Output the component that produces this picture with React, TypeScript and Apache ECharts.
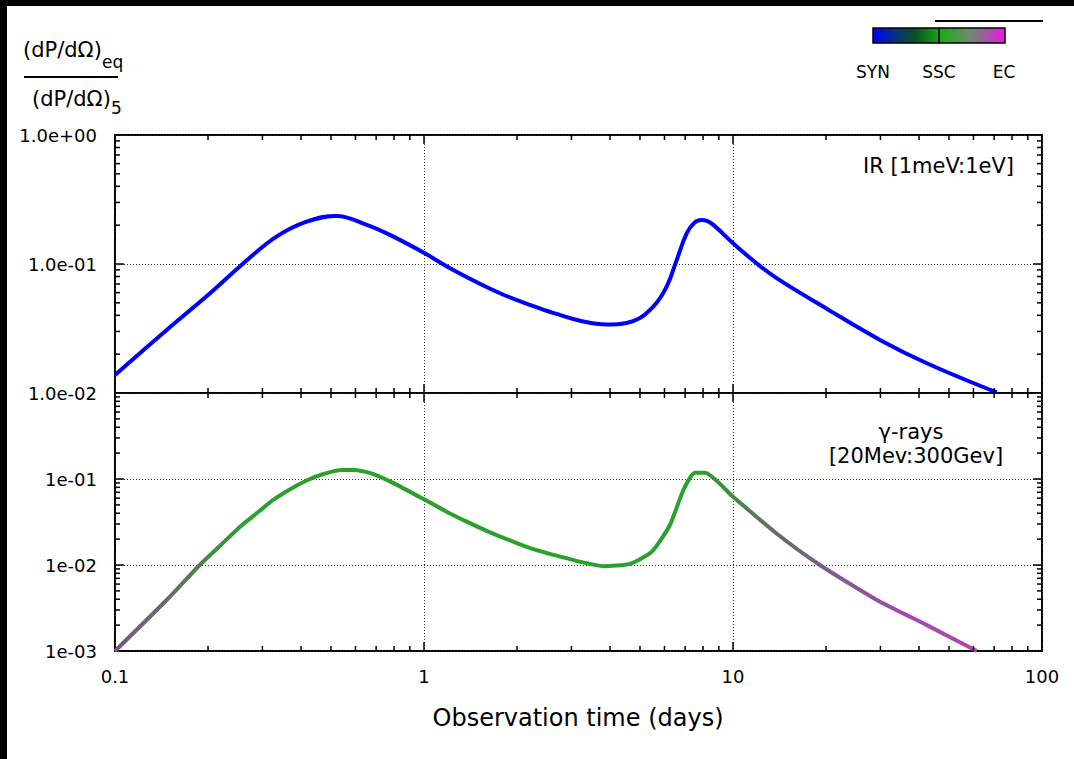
import React, { useEffect, useRef } from "react";
import * as echarts from "echarts";

// ---------- data ----------
const xTickValues = [0.1, 1, 10, 100];
const xTickLabels = ["0.1", "1", "10", "100"];
const topYTickValues = [0.01, 0.1, 1];
const topYTickLabels = ["1.0e-02", "1.0e-01", "1.0e+00"];
const bottomYTickValues = [0.001, 0.01, 0.1, 1];
const bottomYTickLabels = ["1e-03", "1e-02", "1e-01", ""];

const xMinorTicks = [0.2, 0.3, 0.4, 0.5, 0.6, 0.7, 0.8, 0.9, 2, 3, 4, 5, 6, 7, 8, 9, 20, 30, 40, 50, 60, 70, 80, 90];
const xMajorTicks = [1, 10];
const topYMinorTicks = [0.02, 0.03, 0.04, 0.05, 0.06, 0.07, 0.08, 0.09, 0.2, 0.3, 0.4, 0.5, 0.6, 0.7, 0.8, 0.9];
const topYMajorTicks = [0.1];
const bottomYMinorTicks = [0.002, 0.003, 0.004, 0.005, 0.006, 0.007, 0.008, 0.009, 0.02, 0.03, 0.04, 0.05, 0.06, 0.07, 0.08, 0.09, 0.2, 0.3, 0.4, 0.5, 0.6, 0.7, 0.8, 0.9];
const bottomYMajorTicks = [0.01, 0.1];

// IR [1meV:1eV]
const irTime = [0.1, 0.147, 0.203, 0.26, 0.333, 0.417, 0.521, 0.653, 0.796, 1.0, 1.244, 1.763, 2.37, 2.76, 3.2, 3.9, 4.75, 5.52, 6.1, 6.57, 7.08, 7.5, 7.92, 8.2, 8.64, 10, 11.65, 13.8, 20.1, 29.9, 42.4, 71.3];
const irRatio = [0.0138, 0.0308, 0.0593, 0.101, 0.163, 0.213, 0.236, 0.201, 0.163, 0.122, 0.0898, 0.0593, 0.0453, 0.0402, 0.0363, 0.034, 0.0361, 0.0467, 0.0667, 0.107, 0.173, 0.209, 0.219, 0.217, 0.201, 0.145, 0.106, 0.078, 0.045, 0.0258, 0.017, 0.0101];

// gamma-rays [20Mev:300Gev]
const gammaTime = [0.1, 0.147, 0.188, 0.22, 0.254, 0.29, 0.325, 0.37, 0.417, 0.47, 0.542, 0.6, 0.686, 0.8, 1.0, 1.2, 1.375, 1.6, 1.995, 2.3, 2.76, 3.2, 3.8, 4.64, 5.46, 6.25, 6.91, 7.53, 8.11, 10, 13.8, 19.1, 29.2, 42.4, 61.5];
const gammaRatio = [0.001, 0.00392, 0.01, 0.0171, 0.0279, 0.041, 0.057, 0.0766, 0.0961, 0.1136, 0.1273, 0.127, 0.1142, 0.089, 0.058, 0.0406, 0.0319, 0.0248, 0.018, 0.015, 0.0125, 0.0109, 0.0097, 0.0103, 0.0143, 0.0292, 0.0745, 0.118, 0.118, 0.0622, 0.0234, 0.01, 0.00392, 0.002, 0.001];

const legendLabels = ["SYN", "SSC", "EC"];

// ---------- styling ----------
const FONT = "DejaVu Sans";
const L = 115, R = 1042, T1 = 135, MID = 393, B2 = 651;

function labelFor(values: number[], labels: string[]) {
  return (v: number) => {
    const i = values.findIndex((t) => Math.abs(Math.log10(t) - Math.log10(v)) < 1e-6);
    return i >= 0 ? labels[i] : "";
  };
}

function tickSeries(gi: number, dir: "x" | "y", values: number[], len: number, xr: number[], yr: number[]) {
  return {
    type: "custom",
    xAxisIndex: gi,
    yAxisIndex: gi,
    silent: true,
    z: 6,
    clip: false,
    data: values.map((v) => (dir === "x" ? [v, yr[0]] : [xr[0], v])),
    renderItem: (params: any, api: any) => {
      const style = { stroke: "#000", lineWidth: 1.5 };
      if (dir === "x") {
        const v = api.value(0);
        const a = api.coord([v, yr[0]]);
        const b = api.coord([v, yr[1]]);
        return {
          type: "group",
          children: [
            { type: "line", shape: { x1: a[0], y1: a[1], x2: a[0], y2: a[1] - len }, style },
            { type: "line", shape: { x1: b[0], y1: b[1], x2: b[0], y2: b[1] + len }, style },
          ],
        };
      }
      const v = api.value(1);
      const a = api.coord([xr[0], v]);
      const b = api.coord([xr[1], v]);
      return {
        type: "group",
        children: [
          { type: "line", shape: { x1: a[0], y1: a[1], x2: a[0] + len, y2: a[1] }, style },
          { type: "line", shape: { x1: b[0], y1: b[1], x2: b[0] - len, y2: b[1] }, style },
        ],
      };
    },
  };
}

const split = { show: true, lineStyle: { color: "#333", width: 1, type: [1, 2] } };

export default function App() {
  const ref = useRef<HTMLDivElement>(null);
  useEffect(() => {
    if (!ref.current) return;
    const chart = echarts.init(ref.current, null, { renderer: "svg" });
    const xr = [0.1, 100];
    const yTop = [0.01, 1];
    const yBot = [0.001, 1];
    const txt = (x: number, y: number, text: string, size: number, align = "left") => ({
      type: "text",
      x,
      y,
      style: { text, fontSize: size, fontFamily: FONT, fill: "#000", align, verticalAlign: "middle" },
    });
    const option: any = {
      animation: false,
      backgroundColor: "#ffffff",
      grid: [
        { left: L, right: 1074 - R, top: T1, height: MID - T1, show: true, borderColor: "#000", borderWidth: 2 },
        { left: L, right: 1074 - R, top: MID, height: B2 - MID, show: true, borderColor: "#000", borderWidth: 2 },
      ],
      xAxis: [
        {
          type: "log", gridIndex: 0, min: 0.1, max: 100, logBase: 10,
          axisLine: { show: false }, axisTick: { show: false }, axisLabel: { show: false },
          splitLine: split,
        },
        {
          type: "log", gridIndex: 1, min: 0.1, max: 100, logBase: 10,
          axisLine: { show: false }, axisTick: { show: false },
          axisLabel: { fontSize: 18, fontFamily: FONT, color: "#000", margin: 16, formatter: labelFor(xTickValues, xTickLabels) },
          splitLine: split,
        },
      ],
      yAxis: [
        {
          type: "log", gridIndex: 0, min: 0.01, max: 1, logBase: 10,
          axisLine: { show: false }, axisTick: { show: false },
          axisLabel: { fontSize: 18, fontFamily: FONT, color: "#000", margin: 18, formatter: labelFor(topYTickValues, topYTickLabels) },
          splitLine: split,
        },
        {
          type: "log", gridIndex: 1, min: 0.001, max: 1, logBase: 10,
          axisLine: { show: false }, axisTick: { show: false },
          axisLabel: { fontSize: 18, fontFamily: FONT, color: "#000", margin: 18, showMaxLabel: false, formatter: labelFor(bottomYTickValues, bottomYTickLabels) },
          splitLine: split,
        },
      ],
      series: [
        {
          type: "line", xAxisIndex: 0, yAxisIndex: 0, name: "IR",
          data: irTime.map((t, i) => [t, irRatio[i]]),
          showSymbol: false, smooth: 0.4, clip: true, z: 4,
          lineStyle: { color: "#0000ff", width: 4 },
        },
        {
          type: "line", xAxisIndex: 1, yAxisIndex: 1, name: "gamma",
          data: gammaTime.map((t, i) => [t, gammaRatio[i]]),
          showSymbol: false, smooth: 0.2, clip: true, z: 4,
          lineStyle: {
            width: 4,
            color: new echarts.graphic.LinearGradient(0, 0, 1, 0, [
              { offset: 0, color: "#7a5588" },
              { offset: 0.07, color: "#637060" },
              { offset: 0.115, color: "#40903c" },
              { offset: 0.16, color: "#2ca02c" },
              { offset: 0.68, color: "#2ca02c" },
              { offset: 0.72, color: "#4a8a4a" },
              { offset: 0.77, color: "#6a6a6a" },
              { offset: 0.82, color: "#7e5e86" },
              { offset: 0.9, color: "#9a4ea6" },
              { offset: 1, color: "#b044b8" },
            ]),
          },
        },
        tickSeries(0, "x", xMinorTicks, 5, xr, yTop),
        tickSeries(0, "x", xMajorTicks, 9, xr, yTop),
        tickSeries(0, "y", topYMinorTicks, 5, xr, yTop),
        tickSeries(0, "y", topYMajorTicks, 9, xr, yTop),
        tickSeries(1, "x", xMinorTicks, 5, xr, yBot),
        tickSeries(1, "x", xMajorTicks, 9, xr, yBot),
        tickSeries(1, "y", bottomYMinorTicks, 5, xr, yBot),
        tickSeries(1, "y", bottomYMajorTicks, 9, xr, yBot),
      ],
      graphic: [
        { type: "rect", shape: { x: 0, y: 0, width: 1074, height: 6 }, style: { fill: "#000" }, z: 100 },
        { type: "rect", shape: { x: 0, y: 0, width: 7, height: 759 }, style: { fill: "#000" }, z: 100 },
        // y-axis title as a fraction
        txt(23, 50, "(dP/dΩ)", 21),
        txt(102, 62, "eq", 17),
        { type: "line", shape: { x1: 24, y1: 77, x2: 118, y2: 77 }, style: { stroke: "#000", lineWidth: 2 } },
        txt(32, 99, "(dP/dΩ)", 21),
        txt(111, 108, "5", 17),
        // panel labels
        txt(1014, 166, "IR [1meV:1eV]", 21, "right"),
        txt(911, 432, "γ-rays", 21, "center"),
        txt(916, 456, "[20Mev:300Gev]", 21, "center"),
        // x-axis title
        txt(578, 718, "Observation time (days)", 24, "center"),
        // colour key
        {
          type: "rect", shape: { x: 873, y: 28, width: 66, height: 15 },
          style: {
            stroke: "#000", lineWidth: 1.5,
            fill: new echarts.graphic.LinearGradient(0, 0, 1, 0, [
              { offset: 0, color: "#0000ff" },
              { offset: 0.4, color: "#083a6a" },
              { offset: 0.65, color: "#0a5022" },
              { offset: 1, color: "#14a814" },
            ]),
          },
        },
        {
          type: "rect", shape: { x: 939, y: 28, width: 66, height: 15 },
          style: {
            stroke: "#000", lineWidth: 1.5,
            fill: new echarts.graphic.LinearGradient(0, 0, 1, 0, [
              { offset: 0, color: "#10b010" },
              { offset: 0.45, color: "#6e8a6e" },
              { offset: 0.62, color: "#8a6e8a" },
              { offset: 1, color: "#f014f0" },
            ]),
          },
        },
        { type: "line", shape: { x1: 935, y1: 21, x2: 1043, y2: 21 }, style: { stroke: "#000", lineWidth: 2 } },
        txt(873, 72, legendLabels[0], 17, "center"),
        txt(939, 72, legendLabels[1], 17, "center"),
        txt(1004, 72, legendLabels[2], 17, "center"),
      ],
    };
    chart.setOption(option);
    return () => chart.dispose();
  }, []);
  return (
    <div
      ref={ref}
      style={{ position: "fixed", left: 0, top: 0, width: 1074, height: 759, background: "#fff" }}
    />
  );
}
